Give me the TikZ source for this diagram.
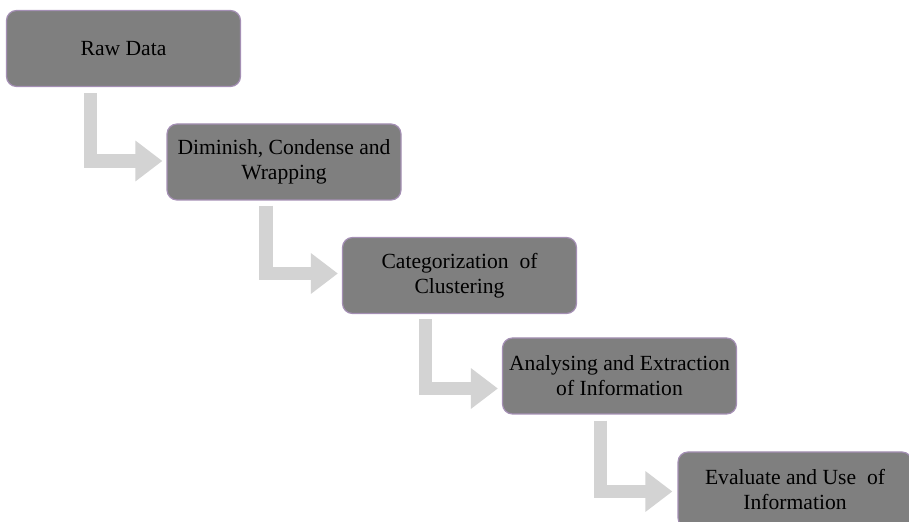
\documentclass[tikz,border=0pt]{standalone}
\usepackage{fontspec}
\setmainfont{Liberation Serif}
\usetikzlibrary{calc,arrows.meta}
\definecolor{boxfill}{HTML}{7F7F7F}
\definecolor{boxline}{HTML}{A48FB4}
\definecolor{flowgray}{HTML}{D3D3D3}

\begin{document}
\begin{tikzpicture}[x=0.5pt,y=-0.5pt,
    stepbox/.style={shape=rectangle, rounded corners=5pt, fill=boxfill, draw=boxline, line width=0.6pt,
        minimum width=117pt, minimum height=38pt, inner sep=0pt, align=center,
        font=\fontsize{10.8}{12.5}\selectfont},
    flow/.style={draw=flowgray, line width=6.8pt, line join=miter,
        -{Triangle[width=19.5pt,length=13.5pt,fill=flowgray]}}]
    \useasboundingbox (0,0) rectangle (909,522);
    \clip (0,0) rectangle (909,522);
	\node [stepbox] (raw) at (123.5, 48.5) {Raw Data};
	
	\node [stepbox] (dim) at (284, 162) {Diminish, Condense and\\ Wrapping};
	
	\node [stepbox] (cat) at (459.5, 275.5) {Categorization\ \ of\\ Clustering};
	
	\node [stepbox] (ana) at (619.5, 376) {Analysing and Extraction\\ of Information};
	\node [stepbox] (eva) at (795, 490) {Evaluate and Use\ \ of\\ Information};
	
	\draw [flow] ($(raw.south west)+(84.5,6)$) |- ($(dim.west)+(-4,-1)$);
	\draw [flow] ($(dim.south west)+(99.5,5)$) |- ($(cat.west)+(-4,-2)$);
	\draw [flow] ($(cat.south west)+(83.5,5)$) |- ($(ana.west)+(-4,12.5)$);
	\draw [flow] ($(ana.south west)+(98.5,6)$) |- ($(eva.west)+(-5,1.5)$);
	\end{tikzpicture}
\end{document}
